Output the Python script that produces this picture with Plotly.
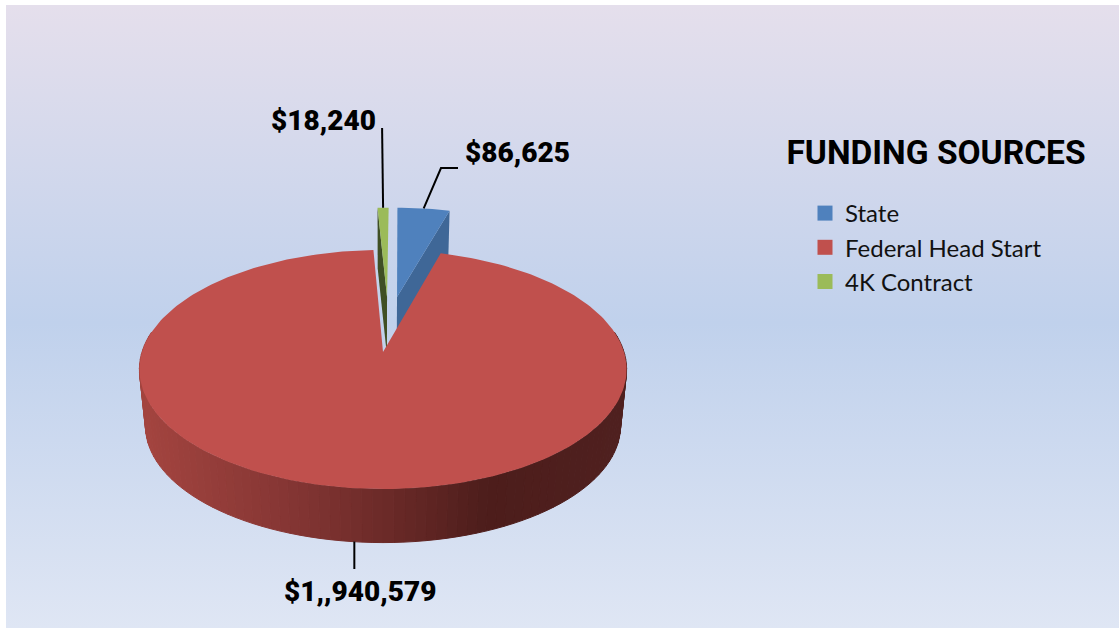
import math
import urllib.parse
import plotly.graph_objects as go

# ---- data ----
categories = ["State", "Federal Head Start", "4K Contract"]
values = [86625, 1940579, 18240]
value_labels = ["$86,625", "$1,,940,579", "$18,240"]
top_colors = ["#4f81bd", "#c0504d", "#9bbb59"]
cut_colors = ["#3f6797", "#7a2f2d", "#3f4f24"]
chart_title = "FUNDING SOURCES"

# ---- projection of the tilted pie (page pixels) ----
W, H = 1119, 628
CX, CY_TOP, CY_BOT = 383.0, 352.0, 409.0
RX, RY, PERSP = 241.0, 117.0, 0.146
BOT_SCALE = 0.975
START_ANGLE = 0.6
EXPLODE = [(0.0625, 0.505), (0.0, 0.0), (0.018, 0.505)]


def proj(u, v, bottom=False):
    s = 1.0 / (1.0 + PERSP * v)
    if bottom:
        return CX + BOT_SCALE * RX * u * s, CY_BOT - BOT_SCALE * RY * v * s
    return CX + RX * u * s, CY_TOP - RY * v * s


def rim(a, off, bottom=False):
    r = math.radians(a)
    return proj(off[0] + math.sin(r), off[1] + math.cos(r), bottom)


def lerp_color(x):
    stops = [(146, (163, 68, 63)), (287, (133, 54, 52)), (387, (107, 42, 40)),
             (487, (77, 29, 27)), (622, (79, 32, 31))]
    for (x0, c0), (x1, c1) in zip(stops, stops[1:]):
        if x <= x1:
            t = max(0.0, (x - x0) / (x1 - x0))
            return "rgb(%d,%d,%d)" % tuple(round(a + (b - a) * t) for a, b in zip(c0, c1))
    return "rgb(%d,%d,%d)" % stops[-1][1]


def poly(points, color, line=0.0, name=None):
    xs = [p[0] for p in points] + [points[0][0]]
    ys = [p[1] for p in points] + [points[0][1]]
    return go.Scatter(x=xs, y=ys, mode="lines", fill="toself", fillcolor=color,
                      line=dict(color=color, width=line), hoverinfo="skip",
                      showlegend=False, name=name)


total = sum(values)
spans = []
a = START_ANGLE
for val in values:
    b = a + 360.0 * val / total
    spans.append((a, b))
    a = b

traces = []

# cut faces of the two pulled-out slices
s0, s1 = spans[0]
off = EXPLODE[0]
apex_t, apex_b = proj(*off), proj(*off, bottom=True)
traces.append(poly([apex_t, rim(s1, off), rim(s1, off, True), apex_b], cut_colors[0]))
s0, s1 = spans[2]
off = EXPLODE[2]
apex_t, apex_b = proj(*off), proj(*off, bottom=True)
traces.append(poly([apex_t, rim(s0, off), rim(s0, off, True), apex_b], cut_colors[2]))

# top faces of the pulled-out slices
for i in (0, 2):
    s0, s1 = spans[i]
    off = EXPLODE[i]
    n = 12
    pts = [proj(*off)] + [rim(s0 + (s1 - s0) * k / n, off) for k in range(n + 1)]
    traces.append(poly(pts, top_colors[i]))

# outer wall of the large slice, shaded in bands
BANDS = 90
for k in range(BANDS):
    a0 = 80 + 200.0 * k / BANDS
    a1 = 80 + 200.0 * (k + 1) / BANDS
    zero = (0.0, 0.0)
    q = [rim(a0, zero), rim(a1, zero), rim(a1, zero, True), rim(a0, zero, True)]
    xm = sum(p[0] for p in q) / 4
    traces.append(poly(q, lerp_color(xm), line=1.0))

# top face of the large slice
s0, s1 = spans[1]
n = 240
pts = [proj(0, 0)] + [rim(s0 + (s1 - s0) * k / n, (0, 0)) for k in range(n + 1)]
traces.append(poly(pts, top_colors[1]))

# legend entries
for name, col in zip(categories, top_colors):
    traces.append(go.Scatter(x=[None], y=[None], mode="markers", name=name,
                             marker=dict(symbol="square", size=15, color=col)))

fig = go.Figure(traces)

# ---- leader lines, starting from each slice's outer edge ----
mid_state = rim(sum(spans[0]) / 2, EXPLODE[0])
mid_fed = rim(sum(spans[1]) / 2, (0, 0), True)
mid_4k = rim(sum(spans[2]) / 2, EXPLODE[2])
leader = dict(color="black", width=2)
shapes = [
    dict(type="path", xref="x", yref="y", line=leader,
         path=f"M {mid_state[0]:.1f} {mid_state[1]:.1f} L 441 168 L 458 168"),
    dict(type="line", xref="x", yref="y", line=leader,
         x0=mid_fed[0] + 3, y0=mid_fed[1], x1=mid_fed[0] + 3, y1=569),
    dict(type="line", xref="x", yref="y", line=leader,
         x0=mid_4k[0], y0=mid_4k[1], x1=mid_4k[0] - 1, y1=128),
]

label_font = dict(family="Roboto", size=28, color="black", weight=900)
annotations = [
    dict(x=572, y=152, xanchor="right", text=value_labels[0], showarrow=False, font=label_font),
    dict(x=360, y=591, text=value_labels[1], showarrow=False, font=label_font),
    dict(x=378, y=120, xanchor="right", text=value_labels[2], showarrow=False, font=label_font),
]

svg = ('<svg xmlns="http://www.w3.org/2000/svg" width="1113" height="623" preserveAspectRatio="none">'
       '<defs><linearGradient id="g" x1="0" y1="0" x2="0" y2="1">'
       '<stop offset="0" stop-color="#e5dfec"/><stop offset="0.51" stop-color="#c0d1ec"/>'
       '<stop offset="1" stop-color="#dfe6f4"/></linearGradient></defs>'
       '<rect width="1113" height="623" fill="url(#g)"/></svg>')

fig.update_layout(
    width=W, height=H,
    margin=dict(l=0, r=0, t=0, b=0),
    paper_bgcolor="white", plot_bgcolor="rgba(0,0,0,0)",
    xaxis=dict(range=[0, W], visible=False, fixedrange=True),
    yaxis=dict(range=[H, 0], visible=False, fixedrange=True),
    images=[dict(source="data:image/svg+xml," + urllib.parse.quote(svg), xref="x", yref="y",
                 x=6, y=5, sizex=1113, sizey=623, sizing="stretch", layer="below")],
    shapes=shapes, annotations=annotations,
    title=dict(text=chart_title, x=936 / W, xanchor="center", y=1 - 152 / H, yanchor="middle",
               font=dict(family="Roboto", size=33.5, color="black", weight=700)),
    showlegend=True,
    legend=dict(x=805 / W, y=1 - 191 / H, xanchor="left", yanchor="top", bgcolor="rgba(0,0,0,0)",
                font=dict(family="Lato", size=24, color="#111111")),
)

fig.write_html("out.html", config={"displayModeBar": False},
               post_script="document.body.style.margin='0';")
